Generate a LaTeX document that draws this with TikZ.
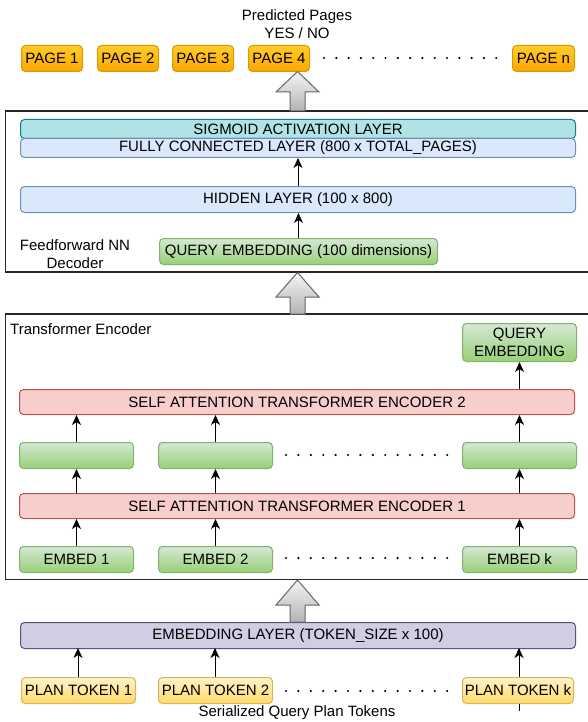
\documentclass[tikz,border=0pt]{standalone}
\usepackage{fontspec}
\setmainfont{Liberation Sans}
\usetikzlibrary{arrows.meta}
\definecolor{orT}{HTML}{FFCD28}\definecolor{orB}{HTML}{FFA500}\definecolor{orD}{HTML}{D79B00}
\definecolor{tlF}{HTML}{B0E3E6}\definecolor{tlD}{HTML}{0E8088}
\definecolor{blF}{HTML}{DAE8FC}\definecolor{blD}{HTML}{6C8EBF}
\definecolor{grT}{HTML}{D5E8D4}\definecolor{grB}{HTML}{97D077}\definecolor{grD}{HTML}{82B366}
\definecolor{rdF}{HTML}{F8CECC}\definecolor{rdD}{HTML}{B85450}
\definecolor{puF}{HTML}{D0CEE2}\definecolor{puD}{HTML}{56517E}
\definecolor{ylT}{HTML}{FFF2CC}\definecolor{ylB}{HTML}{FFD966}\definecolor{ylD}{HTML}{D6B656}
\definecolor{gaT}{HTML}{F5F5F5}\definecolor{gaB}{HTML}{B3B3B3}\definecolor{gaD}{HTML}{666666}
\newcommand\bigarr[4]{\draw[bigarrow] (#1-7.5,#4) -- (#1-7.5,#3) -- (#1-21.5,#3) -- (#1,#2) -- (#1+21.5,#3) -- (#1+7.5,#3) -- (#1+7.5,#4) -- cycle;}
\begin{document}
\begin{tikzpicture}[x=1pt,y=-1pt,
  font=\fontsize{15}{18}\selectfont,
  base/.style={anchor=north west, inner sep=0pt, rounded corners=4pt, line width=1pt, text=black},
  pagebox/.style={base, draw=orD, top color=orT, bottom color=orB, minimum width=61pt, minimum height=26pt},
  tealbox/.style={base, draw=tlD, fill=tlF, minimum width=555pt},
  bluebox/.style={base, draw=blD, fill=blF, minimum width=555pt},
  greenbox/.style={base, draw=grD, top color=grT, bottom color=grB},
  redbox/.style={base, draw=rdD, fill=rdF, minimum width=555pt, minimum height=25pt},
  purplebox/.style={base, draw=puD, fill=puF},
  yellowbox/.style={base, draw=ylD, top color=ylT, bottom color=ylB, minimum width=114pt, minimum height=26pt},
  frame/.style={draw=black!85, line width=1.3pt},
  arr/.style={draw=black, line width=1pt, -{Stealth[length=10pt,width=9pt,inset=3pt]}},
  bigarrow/.style={draw=gaD, line width=1pt, top color=gaT, bottom color=gaB},
  lbl/.style={inner sep=0pt, align=center}]
\useasboundingbox (0,0) rectangle (587,722);

% ---- output pages
\node[lbl] (pred) at (297,24) {Predicted Pages\\YES / NO};
\node[pagebox] (p1) at (21,45) {PAGE 1};
\node[pagebox] (p2) at (97,45) {PAGE 2};
\node[pagebox] (p3) at (172,45) {PAGE 3};
\node[pagebox] (p4) at (248,45) {PAGE 4};
\node[pagebox, minimum width=62pt] (pn) at (512,45) {PAGE n};
\foreach \i in {0,...,14} \fill (324+\i*12.3,58) circle (1.2pt);

% ---- decoder frame
\draw[frame] (5.5,111) rectangle (592,272);
\node[tealbox, minimum height=19pt] (sig) at (20,119) {SIGMOID ACTIVATION LAYER};
\node[bluebox, minimum height=19pt] (fc) at (20,138) {FULLY CONNECTED LAYER (800 x TOTAL\_PAGES)};
\node[bluebox, minimum height=26pt] (hid) at (20,186) {HIDDEN LAYER (100 x 800)};
\node[greenbox, minimum width=278pt, minimum height=26pt] (qd) at (159,238) {QUERY EMBEDDING (100 dimensions)};
\node[lbl] (fflbl) at (75,254) {Feedforward NN\\Decoder};
\draw[arr] (hid.north) -- (fc.south);
\draw[arr] (qd.north) -- (qd.north |- hid.south);

% ---- transformer frame
\draw[frame] (5.5,314) rectangle (592,579.5);
\node[lbl, anchor=west] (trlbl) at (10,329) {Transformer Encoder};
\node[greenbox, minimum width=114pt, minimum height=38pt, align=center] (qe) at (462,323) {QUERY\\EMBEDDING};
\node[redbox] (s2) at (19,389) {SELF ATTENTION TRANSFORMER ENCODER 2};
\node[greenbox, minimum width=114pt, minimum height=26pt] (g1) at (19,442) {};
\node[greenbox, minimum width=114pt, minimum height=26pt] (g2) at (158,442) {};
\node[greenbox, minimum width=114pt, minimum height=26pt] (g3) at (462,442) {};
\node[redbox] (s1) at (19,493) {SELF ATTENTION TRANSFORMER ENCODER 1};
\node[greenbox, minimum width=114pt, minimum height=26pt] (e1) at (19,546) {EMBED 1};
\node[greenbox, minimum width=114pt, minimum height=26pt] (e2) at (158,546) {EMBED 2};
\node[greenbox, minimum width=114pt, minimum height=26pt] (ek) at (462,546) {EMBED k};
\foreach \i in {0,...,13} \fill (286+\i*12.4,455) circle (1.2pt);
\foreach \i in {0,...,13} \fill (286+\i*12.4,558) circle (1.2pt);
\foreach \n in {1,2,k} \draw[arr] (e\n.north) -- (e\n.north |- s1.south);
\draw[arr] (g1.south |- s1.north) -- (g1.south);
\draw[arr] (g2.south |- s1.north) -- (g2.south);
\draw[arr] (g3.south |- s1.north) -- (g3.south);
\draw[arr] (g1.north) -- (g1.north |- s2.south);
\draw[arr] (g2.north) -- (g2.north |- s2.south);
\draw[arr] (g3.north) -- (g3.north |- s2.south);
\draw[arr] (qe.south |- s2.north) -- (qe.south);

% ---- embedding layer and tokens
\node[purplebox, minimum width=555pt, minimum height=26pt] (emb) at (20,622) {EMBEDDING LAYER (TOKEN\_SIZE x 100)};
\node[yellowbox] (t1) at (21,677) {PLAN TOKEN 1};
\node[yellowbox] (t2) at (158,677) {PLAN TOKEN 2};
\node[yellowbox, minimum width=111pt] (tk) at (462,677) {PLAN TOKEN k};
\foreach \i in {0,...,13} \fill (286+\i*12.4,691) circle (1.2pt);
\draw[arr] (t1.north -| 78,0) -- (78,648);
\draw[arr] (t2.north -| 215,0) -- (215,648);
\draw[arr] (tk.north -| 519,0) -- (519,648);
\coordinate (tail) at (519,711);
\draw[line width=1pt] (tail) -- (tail |- tk.south);
\node[lbl] (ser) at (297,713) {Serialized Query Plan Tokens};

% ---- big block arrows
\bigarr{297.5}{71.5}{92}{111}
\bigarr{297.5}{272.5}{297}{314}
\bigarr{297.5}{580}{605}{622}
\end{tikzpicture}
\end{document}
